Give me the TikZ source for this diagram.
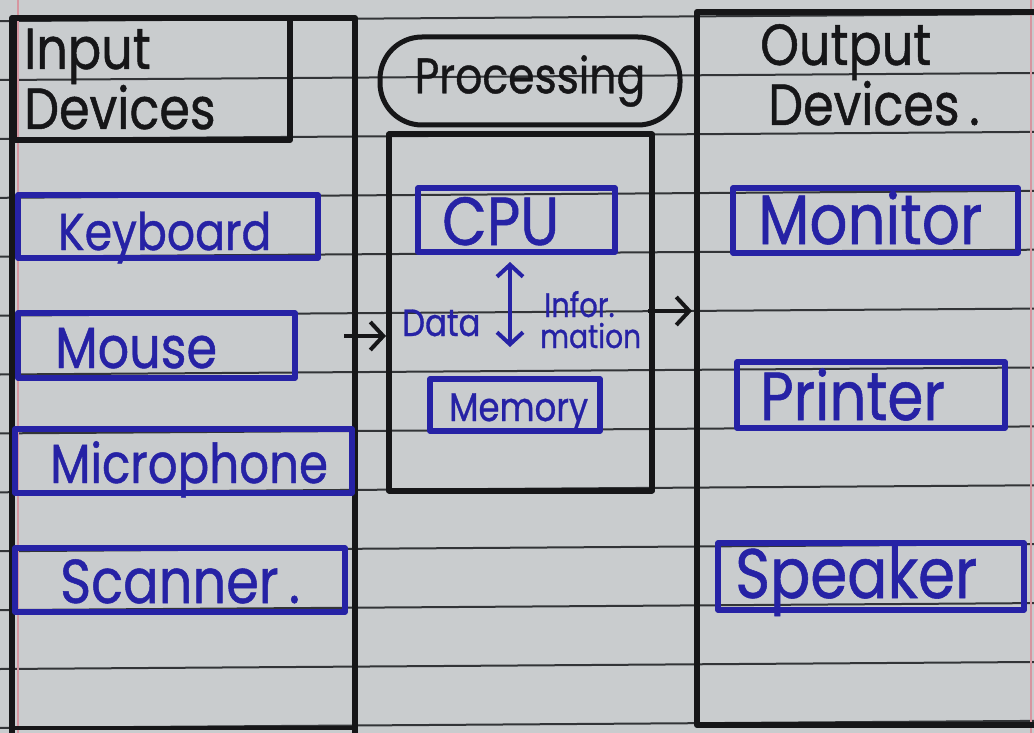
\documentclass[tikz,border=0pt]{standalone}
\usepackage{fontspec}
\setmainfont{Poppins}
\newfontfamily\hand{Poppins}[FakeBold=0.8, FakeStretch=0.85]
\usetikzlibrary{arrows.meta}
\definecolor{paper}{RGB}{201,204,206}
\definecolor{ruled}{RGB}{50,52,55}
\definecolor{margin}{RGB}{214,150,160}
\definecolor{inkblack}{RGB}{22,22,24}
\definecolor{inkblue}{RGB}{38,34,165}
\begin{document}
\begin{tikzpicture}[x=1pt,y=-1pt,
  rule/.style={draw=ruled, line width=2pt},
  frame/.style={draw=inkblack, line width=6pt, line cap=round, line join=round},
  bluebox/.style={draw=inkblue, line width=5.5pt, line join=round, inner sep=0pt},
  bluetext/.style={text=inkblue, inner sep=0pt, anchor=base west},
  headtext/.style={text=inkblack, inner sep=0pt, anchor=base west, font=\hand\fontsize{58}{62}\selectfont},
  barb/.style={-{Straight Barb[length=13pt,width=28pt,line width=4pt]}},
  dbarb/.style={{Straight Barb[length=12pt,width=26pt,line width=4pt]}-{Straight Barb[length=12pt,width=26pt,line width=4pt]}}
]
\useasboundingbox (0,0) rectangle (1034,733);
\fill[paper] (0,0) rectangle (1034,733);
% ruled notebook lines
\foreach \k in {-1,...,11}{
  \draw[rule] (0,{80+58.9*\k}) -- (1034,{80+58.9*\k-7});
}
\draw[draw=margin, line width=1.5pt] (18,0) -- (18,733);
\draw[draw=margin, line width=1.2pt] (1031,0) -- (1031,733);

% ---------- left column ----------
\draw[frame] (12,733) -- (12,18) -- (355,18) -- (355,733);
\draw[frame, line width=4pt] (12,728) -- (355,728);
\node[frame, minimum width=276pt, minimum height=122pt, inner sep=0pt] (inhead) at (152,79) {};
\node[headtext] (inputt) at (24,69) {Input};
\node[headtext] (indevt) at (24,129) {Devices};

\node[bluebox, minimum width=300pt, minimum height=63pt] (kb) at (168,226.5) {};
\node[bluetext, font=\hand\fontsize{52}{56}\selectfont] (kbt) at (58,250) {Keyboard};
\node[bluebox, minimum width=277pt, minimum height=65pt] (ms) at (156.5,345.5) {};
\node[bluetext, font=\hand\fontsize{58}{62}\selectfont] (mst) at (55,368) {Mouse};
\node[bluebox, minimum width=337pt, minimum height=64pt] (mic) at (183.5,461) {};
\node[bluetext, font=\hand\fontsize{55}{60}\selectfont] (mict) at (50,483) {Microphone};
\node[bluebox, minimum width=330pt, minimum height=64pt] (scn) at (180,580) {};
\node[bluetext, font=\hand\fontsize{62}{66}\selectfont] (scnt) at (60,603) {Scanner\,.};

% ---------- processing ----------
\node[draw=inkblack, line width=5pt, rounded corners=42pt, minimum width=300pt, minimum height=88pt,
      inner sep=0pt, text=inkblack, font=\hand\fontsize{50}{54}\selectfont] (prochead) at (530,81) {Processing};
\node[frame, minimum width=263pt, minimum height=356pt, inner sep=0pt] (proc) at (520.5,312.5) {};

\node[bluebox, minimum width=197pt, minimum height=64pt] (cpu) at (516.5,220) {};
\node[bluetext, font=\hand\fontsize{68}{72}\selectfont] (cput) at (442,245) {CPU};
\node[bluebox, minimum width=170pt, minimum height=52pt] (mem) at (515,405) {};
\node[bluetext, font=\hand\fontsize{40}{44}\selectfont] (memt) at (449,421) {Memory};

\node[bluetext, font=\hand\fontsize{38}{42}\selectfont] (datat) at (402,336) {Data};
\node[bluetext, font=\hand\fontsize{34}{38}\selectfont] (infort) at (544,317) {Infor.};
\node[bluetext, font=\hand\fontsize{33}{36}\selectfont] (mationt) at (540,348) {mation};
\coordinate (dtop) at (510,262);
\coordinate (dbot) at (510,347);
\draw[draw=inkblue, line width=4.5pt, dbarb] (dtop) -- (dbot);

% ---------- right column ----------
\coordinate (rtop) at (697,12);
\coordinate (rbot) at (697,725);
\draw[frame] (1034,12) -- (rtop) -- (rbot) -- (1034,725);
\node[headtext] (outt) at (760,65) {Output};
\node[headtext] (outdevt) at (768,125) {Devices\,.};

\node[bluebox, minimum width=285pt, minimum height=65pt] (mon) at (875.5,220.5) {};
\node[bluetext, font=\hand\fontsize{70}{74}\selectfont] (mont) at (758,244) {Monitor};
\node[bluebox, minimum width=268pt, minimum height=66pt] (prn) at (871,395) {};
\node[bluetext, font=\hand\fontsize{68}{72}\selectfont] (prnt) at (760,420) {Printer};
\node[bluebox, minimum width=306pt, minimum height=67pt] (spk) at (871,576.5) {};
\node[bluetext, font=\hand\fontsize{70}{74}\selectfont] (spkt) at (735,598) {Speaker};

% ---------- connectors ----------
\coordinate (a1s) at (344,336);
\draw[draw=inkblack, line width=4pt, barb] (a1s) -- (proc.west |- a1s);
\coordinate (a2s) at (648,311);
\coordinate (a2e) at (rtop |- a2s);
\draw[draw=inkblack, line width=4pt, barb] (a2s) -- ([xshift=-5pt]a2e);
\end{tikzpicture}
\end{document}
